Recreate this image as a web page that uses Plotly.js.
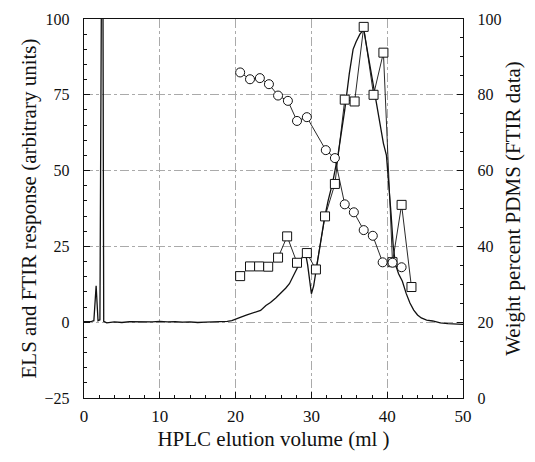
<!DOCTYPE html>
<html>
<head>
<meta charset="utf-8">
<script src="https://cdn.plot.ly/plotly-3.0.1.min.js"></script>
<style>html,body{margin:0;padding:0;background:#fff;}#chart{width:535px;height:462px;}</style>
</head>
<body>
<div id="chart"></div>
<script>
// ELS detector trace (left axis)
var elsX = [0, 0.5, 1.0, 1.3, 1.6, 1.85, 2.1, 2.3, 2.5, 2.6, 3.0, 4, 5, 6, 7, 8, 9, 10, 11, 12, 13, 14, 15, 16, 17, 18, 18.9,
  19.5, 20.0, 20.7, 21.5, 22.4, 23.3, 24.0, 24.6, 25.3, 26.0, 26.6, 27.1, 27.6, 28.2, 28.7, 29.2, 29.5, 29.8, 30.0, 30.3, 30.6,
  31.0, 31.4, 31.7, 32.2, 32.8, 33.5, 34.0, 34.4, 35.0, 35.5, 35.9, 36.4, 36.9, 37.5, 38.0, 38.5, 39.0, 39.5, 39.9, 40.2, 40.5,
  40.8, 41.1, 41.5, 42.0, 42.5, 43.0, 43.5, 44.0, 44.5, 45.2, 46.0, 47.0, 48.0, 49.2, 50.0];
var elsY = [0.2, 0.2, 0.3, 0.5, 12, 0.5, 0.8, 110, 110, 0.3, -0.2, 0.1, -0.1, 0.2, 0.1, 0.2, 0.1, 0.3, 0.1, 0.2, 0.0, 0.1, -0.1, 0.0, 0.1, 0.1, 0.3,
  0.5, 0.9, 1.7, 2.4, 3.1, 3.9, 5.5, 6.5, 8, 9.6, 11.2, 12.7, 15, 18.2, 21, 23, 19, 12, 9.4, 12, 17,
  22, 29, 34, 40, 46, 55, 63, 70, 82, 90, 92.5, 95, 96.5, 88, 81, 74, 66, 59, 55, 46, 36,
  25, 19, 16, 13.5, 9.5, 6.3, 4, 2.4, 1.4, 0.7, 0.4, -0.2, -0.5, -0.7, -0.7];

// FTIR response (squares, left axis)
var ftirX = [20.6, 21.9, 23.1, 24.3, 25.6, 26.8, 28.1, 29.4, 30.6, 31.8, 33.1, 34.4, 35.7, 36.9, 38.2, 39.5, 40.7, 41.9, 43.2];
var ftirY = [15.2, 18.4, 18.4, 18.3, 21.3, 28.3, 19.6, 22.8, 17.4, 34.9, 45.6, 73.4, 72.8, 97.4, 75.0, 88.9, 19.8, 38.7, 11.6];

// Weight percent PDMS (circles, right axis)
var pdmsX = [20.6, 21.9, 23.2, 24.4, 25.6, 26.9, 28.1, 29.4, 31.9, 33.1, 34.4, 35.6, 36.9, 38.1, 39.4, 40.7, 41.9];
var pdmsY = [85.9, 84.1, 84.4, 82.8, 79.8, 78.4, 73.1, 74.1, 65.4, 63.3, 51.1, 49.0, 44.3, 42.8, 35.8, 35.7, 34.5];

var font = "Liberation Serif, Times New Roman, serif";

var traces = [
  {x: elsX, y: elsY, type: 'scatter', mode: 'lines', line: {color: '#111', width: 1.3}, showlegend: false, hoverinfo: 'skip'},
  {x: pdmsX, y: pdmsY, yaxis: 'y2', type: 'scatter', mode: 'lines+markers',
   line: {color: '#111', width: 0.9},
   marker: {symbol: 'circle', size: 9, color: '#fff', line: {color: '#111', width: 1}}, showlegend: false},
  {x: ftirX, y: ftirY, type: 'scatter', mode: 'lines+markers',
   line: {color: '#111', width: 0.9},
   marker: {symbol: 'square', size: 9, color: '#fff', line: {color: '#111', width: 1}}, showlegend: false}
];

var layout = {
  width: 535, height: 462,
  margin: {l: 84, r: 72, t: 19, b: 64},
  paper_bgcolor: '#fff', plot_bgcolor: '#fff',
  font: {family: font, color: '#111', size: 16},
  xaxis: {
    range: [0, 50], dtick: 10, tick0: 0,
    ticks: 'inside', ticklen: 6, tickcolor: '#111',
    minor: {dtick: 2, ticks: 'inside', ticklen: 3, tickcolor: '#111', showgrid: false},
    showline: true, linecolor: '#111', linewidth: 1.2, mirror: true,
    showgrid: true, gridcolor: '#aaa', griddash: 'dashdot', gridwidth: 1,
    zeroline: false, ticklabelstandoff: 2,
    tickfont: {family: font, size: 17, color: '#111'},
    title: {text: 'HPLC elution volume (ml )', font: {family: font, size: 21, color: '#111'}, standoff: 6}
  },
  yaxis: {
    range: [-25, 100], dtick: 25, tick0: 0,
    ticks: 'inside', ticklen: 6, tickcolor: '#111',
    minor: {dtick: 5, ticks: 'inside', ticklen: 3, tickcolor: '#111', showgrid: false},
    showline: true, linecolor: '#111', linewidth: 1.2,
    showgrid: true, gridcolor: '#aaa', griddash: 'dashdot', gridwidth: 1,
    zeroline: false, ticklabelstandoff: 10,
    tickfont: {family: font, size: 16, color: '#111'},
    title: {text: 'ELS and FTIR response (arbitrary units)', font: {family: font, size: 21, color: '#111'}, standoff: 2}
  },
  yaxis2: {
    overlaying: 'y', side: 'right',
    range: [0, 100], dtick: 20, tick0: 0,
    ticks: 'inside', ticklen: 6, tickcolor: '#111',
    minor: {dtick: 5, ticks: 'inside', ticklen: 3, tickcolor: '#111', showgrid: false},
    showline: true, linecolor: '#111', linewidth: 1.2,
    showgrid: false, zeroline: false, ticklabelstandoff: 10,
    tickfont: {family: font, size: 16, color: '#111'},
    title: {text: 'Weight percent PDMS (FTIR data)', font: {family: font, size: 21, color: '#111'}, standoff: 4}
  }
};

Plotly.newPlot('chart', traces, layout, {staticPlot: true, displayModeBar: false});
</script>
</body>
</html>
